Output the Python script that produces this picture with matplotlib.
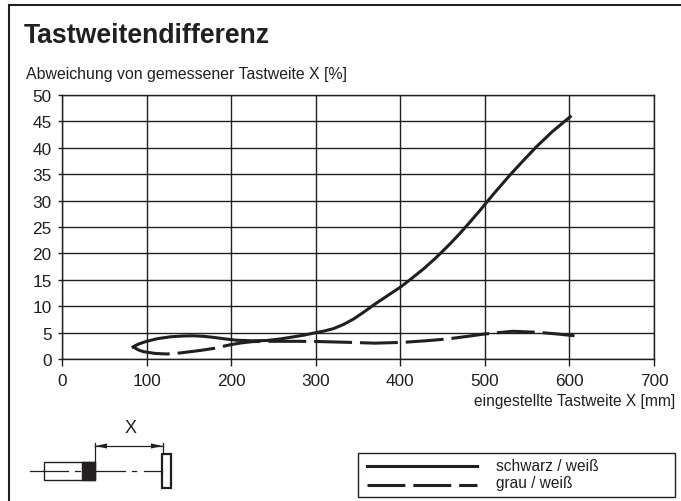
import matplotlib
matplotlib.use('Agg')
import matplotlib.pyplot as plt
from matplotlib.patches import Rectangle

W, H = 681, 502
plt.rcParams['font.family'] = ['Liberation Sans', 'DejaVu Sans']

ink = '#231f20'

x_ticks = [0, 100, 200, 300, 400, 500, 600, 700]
y_ticks = [0, 5, 10, 15, 20, 25, 30, 35, 40, 45, 50]

# schwarz / weiss curve
black_x = [84, 90, 100, 113, 128, 142, 155, 167, 179, 193, 207, 225, 242, 258, 274, 287, 299, 310, 321,
           333, 345, 357, 370, 385, 400, 413, 427, 441, 450, 460, 470, 480, 494, 510, 530, 545, 561, 580, 601]
black_y = [2.3, 2.8, 3.35, 3.85, 4.2, 4.35, 4.4, 4.3, 4.1, 3.8, 3.55, 3.45, 3.5, 3.8, 4.2, 4.55, 4.95, 5.3, 5.75,
           6.55, 7.6, 8.9, 10.4, 12.0, 13.6, 15.2, 17.0, 19.0, 20.4, 22.0, 23.7, 25.5, 28.1, 31.2, 34.9, 37.5, 40.2, 43.1, 45.9]

# grau / weiss curve
grey_x = [84, 90, 96, 110, 124, 140, 155, 167, 179, 199, 212, 226, 240, 254, 280, 305, 340, 370, 403,
          430, 456, 480, 498, 510, 533, 563, 585, 606]
grey_y = [2.3, 1.75, 1.4, 1.05, 0.95, 1.15, 1.45, 1.7, 2.0, 2.7, 3.05, 3.3, 3.35, 3.35, 3.35, 3.3, 3.15, 3.0, 3.15,
          3.45, 3.8, 4.3, 4.7, 4.9, 5.25, 5.05, 4.75, 4.4]

fig = plt.figure(figsize=(W / 100, H / 100), dpi=100)

# whole figure as pixel canvas for the frame, sketch and legend
bg = fig.add_axes([0, 0, 1, 1])
bg.set_xlim(0, W)
bg.set_ylim(H, 0)
bg.axis('off')

# outer frame, open on the right and at the bottom
bg.plot([8.5, 8.5, W], [H, 6, 6], color=ink, lw=1.5, clip_on=False, solid_joinstyle='miter')

bg.text(23.5, 43, 'Tastweitendifferenz', fontsize=19.2, fontweight='bold', color=ink, va='baseline')
bg.text(26.5, 78.5, 'Abweichung von gemessener Tastweite X [%]', fontsize=11.4, color=ink, va='baseline')
bg.text(675, 406, 'eingestellte Tastweite X [mm]', fontsize=11.2, color=ink, va='baseline', ha='right')

# chart
ax = fig.add_axes([62 / W, 1 - 360 / H, (654 - 62) / W, (360 - 96) / H])
ax.plot(black_x, black_y, color=ink, lw=2.2, zorder=3)
ax.plot(grey_x, grey_y, color=ink, lw=2.2, dashes=(12.4, 2.6), zorder=3)
ax.set_xlim(0, 700)
ax.set_ylim(0, 50)
ax.set_xticks(x_ticks)
ax.set_yticks(y_ticks)
ax.grid(True, color=ink, lw=1.0)
ax.set_axisbelow(True)
ax.tick_params(labelsize=12.4, colors=ink, width=1.0)
ax.tick_params(axis='y', length=3, pad=4.5)
ax.tick_params(axis='x', length=5, pad=5)
for s in ax.spines.values():
    s.set_linewidth(1.0)
    s.set_color(ink)

# sensor sketch
bg.text(131, 429, 'X', fontsize=13, color=ink, ha='center', va='center')
bg.add_patch(Rectangle((44, 462.5), 50.5, 18.5, fc='white', ec=ink, lw=1.0))
bg.add_patch(Rectangle((82, 462.5), 12.5, 18.5, fc=ink, ec=ink, lw=1.0))
bg.add_patch(Rectangle((162, 455), 8.5, 33.5, fc='white', ec=ink, lw=1.6))
bg.plot([30, 68], [472, 472], color=ink, lw=0.9)
bg.plot([75, 80], [472, 472], color=ink, lw=0.9)
bg.plot([95, 125], [472, 472], color=ink, lw=0.9)
bg.plot([132, 136], [472, 472], color=ink, lw=0.9)
bg.plot([144, 162], [472, 472], color=ink, lw=0.9)
bg.plot([95, 95], [463, 444], color=ink, lw=0.9)
bg.plot([163, 163], [455, 444], color=ink, lw=0.9)
bg.plot([95, 163], [447, 447], color=ink, lw=0.9)
bg.fill([95, 107, 107], [447, 444.5, 449.5], color=ink, lw=0)
bg.fill([163, 151, 151], [447, 444.5, 449.5], color=ink, lw=0)

# legend box
bg.add_patch(Rectangle((358, 454), 317, 44, fc='white', ec=ink, lw=1.0))
bg.plot([367, 477], [466.5, 466.5], color=ink, lw=2.2)
bg.plot([367, 477], [485.5, 485.5], color=ink, lw=2.2, dashes=(12.4, 2.6))
bg.text(496, 471.5, 'schwarz / weiß', fontsize=11.2, color=ink, va='baseline')
bg.text(496, 488, 'grau / weiß', fontsize=11.2, color=ink, va='baseline')

fig.savefig('out.png', dpi=100)
